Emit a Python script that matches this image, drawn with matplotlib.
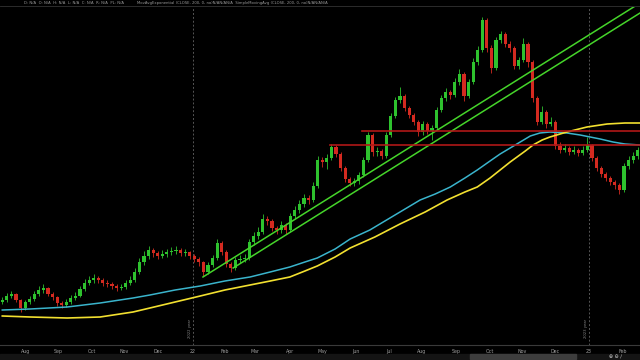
import numpy as np
import pandas as pd
import matplotlib
matplotlib.use('Agg')
import matplotlib.pyplot as plt
from matplotlib.patches import Rectangle
from matplotlib.lines import Line2D

# barras de 3 pregoes, de 09/07/2021 ate fev/2023
days = pd.bdate_range('2021-07-09', periods=420)

opens = [14.3, 14.5, 14.9, 15.1, 14.5, 13.7, 14.3, 14.6, 15.1, 15.5,
         15.7, 15.1, 14.8, 14.2, 14.0, 14.3, 14.7, 14.9, 15.6, 16.2,
         16.5, 16.7, 16.5, 16.2, 16.1, 15.9, 15.7, 15.8, 16.2, 16.5,
         17.3, 18.3, 18.9, 19.5, 19.2, 18.9, 19.1, 19.3, 19.4, 19.5,
         19.2, 19.3, 18.9, 18.6, 18.3, 17.3, 18.0, 18.7, 20.2, 19.3,
         18.1, 17.7, 18.5, 18.6, 18.7, 20.3, 20.9, 21.3, 22.6, 22.4,
         21.7, 21.5, 22.0, 21.5, 22.9, 23.5, 24.1, 24.7, 24.5, 25.9,
         28.5, 28.3, 28.7, 29.8, 29.1, 27.7, 26.6, 26.2, 26.4, 27.0,
         28.5, 31.0, 29.3, 29.4, 28.9, 31.0, 32.9, 34.5, 34.9, 33.7,
         33.0, 32.3, 31.3, 32.1, 31.4, 31.7, 33.5, 34.7, 35.3, 35.0,
         36.3, 37.1, 34.9, 36.3, 38.3, 39.5, 42.5, 39.7, 37.7, 40.5,
         41.1, 40.1, 39.7, 37.9, 38.5, 40.1, 38.3, 34.7, 32.3, 33.3,
         32.1, 32.3, 29.9, 29.5, 29.7, 29.3, 29.5, 29.2, 29.5, 30.0,
         28.7, 27.7, 27.1, 26.7, 26.3, 26.0, 25.5, 27.9, 28.5, 28.9]
closes = [14.5, 14.9, 15.1, 14.5, 13.7, 14.3, 14.6, 15.1, 15.5, 15.7,
          15.1, 14.8, 14.2, 14.0, 14.3, 14.7, 14.9, 15.6, 16.2, 16.5,
          16.7, 16.5, 16.2, 16.1, 15.9, 15.7, 15.8, 16.2, 16.5, 17.3,
          18.3, 18.9, 19.5, 19.2, 18.9, 19.1, 19.3, 19.4, 19.5, 19.2,
          19.3, 18.9, 18.6, 18.3, 17.3, 18.0, 18.7, 20.2, 19.3, 18.1,
          17.7, 18.5, 18.6, 18.7, 20.3, 20.9, 21.3, 22.6, 22.4, 21.7,
          21.5, 22.0, 21.5, 22.9, 23.5, 24.1, 24.7, 24.5, 25.9, 28.5,
          28.3, 28.7, 29.8, 29.1, 27.7, 26.6, 26.2, 26.4, 27.0, 28.5,
          31.0, 29.3, 29.4, 28.9, 31.0, 32.9, 34.5, 34.9, 33.7, 33.0,
          32.3, 31.3, 32.1, 31.4, 31.7, 33.5, 34.7, 35.3, 35.0, 36.3,
          37.1, 34.9, 36.3, 38.3, 39.5, 42.5, 39.7, 37.7, 40.5, 41.1,
          40.1, 39.7, 37.9, 38.5, 40.1, 38.3, 34.7, 32.3, 33.3, 32.1,
          32.3, 29.9, 29.5, 29.7, 29.3, 29.5, 29.2, 29.5, 30.0, 28.7,
          27.7, 27.1, 26.7, 26.3, 26.0, 25.5, 27.9, 28.5, 28.9, 29.5]
highs = [14.8, 15.2, 15.4, 15.2, 14.6, 14.5, 14.9, 15.4, 15.9, 16.1,
         15.8, 15.3, 14.9, 14.4, 14.6, 15.0, 15.3, 15.9, 16.6, 16.9,
         17.1, 16.9, 16.7, 16.5, 16.3, 16.1, 16.1, 16.5, 16.9, 17.7,
         18.7, 19.4, 19.9, 19.7, 19.4, 19.5, 19.6, 19.8, 19.9, 19.7,
         19.6, 19.4, 19.1, 18.8, 18.4, 18.3, 19.0, 20.6, 20.4, 19.5,
         18.3, 18.8, 19.0, 19.1, 20.6, 21.3, 21.8, 23.1, 22.9, 22.6,
         21.9, 22.4, 22.2, 23.2, 23.9, 24.5, 25.1, 25.0, 26.3, 28.9,
         28.8, 29.1, 30.1, 30.0, 29.3, 27.9, 26.8, 26.7, 27.3, 28.8,
         31.3, 31.2, 29.8, 29.6, 31.3, 33.2, 34.8, 35.8, 35.1, 33.9,
         33.2, 32.5, 32.4, 32.3, 32.0, 33.8, 35.0, 35.7, 35.5, 36.7,
         37.6, 37.3, 36.6, 38.7, 39.9, 42.8, 42.7, 40.0, 40.8, 41.4,
         41.3, 40.4, 39.9, 38.8, 40.7, 40.3, 38.5, 34.9, 33.9, 33.5,
         32.8, 32.5, 30.3, 30.1, 29.9, 29.9, 29.7, 29.9, 30.8, 30.1,
         28.9, 27.9, 27.3, 26.9, 26.5, 26.2, 28.2, 28.9, 29.3, 29.8]
lows = [14.1, 14.3, 14.7, 14.3, 13.3, 13.5, 14.1, 14.4, 14.9, 15.2,
        14.9, 14.5, 13.9, 13.7, 13.8, 14.1, 14.5, 14.8, 15.4, 16.0,
        16.2, 16.2, 15.9, 15.8, 15.6, 15.4, 15.5, 15.6, 16.0, 16.3,
        17.1, 18.0, 18.6, 18.8, 18.6, 18.7, 18.8, 19.0, 19.1, 18.9,
        18.9, 18.6, 18.3, 17.9, 16.9, 17.1, 17.8, 18.5, 19.0, 17.8,
        17.3, 17.5, 18.2, 18.3, 18.5, 20.0, 20.6, 21.1, 22.0, 21.4,
        21.1, 21.2, 21.1, 21.3, 22.6, 23.2, 23.8, 24.1, 24.3, 25.7,
        27.8, 27.6, 28.5, 28.8, 27.4, 26.3, 25.9, 25.9, 26.1, 26.8,
        28.3, 28.9, 28.9, 28.6, 28.7, 30.8, 32.7, 34.2, 33.4, 32.7,
        32.0, 30.9, 31.0, 31.1, 30.5, 31.5, 33.3, 34.4, 34.6, 34.8,
        36.0, 34.4, 34.7, 36.1, 38.0, 39.3, 39.3, 37.2, 37.5, 40.2,
        39.8, 39.3, 37.6, 37.6, 38.3, 37.8, 34.3, 32.0, 32.1, 31.7,
        31.9, 29.6, 29.2, 29.3, 29.0, 29.1, 28.9, 29.0, 29.3, 28.4,
        27.4, 26.8, 26.4, 26.0, 25.6, 25.1, 25.3, 27.6, 28.2, 28.6]

# medias de 200 (indice da barra, preco)
ema_x = [0, 6.1, 14.2, 21.4, 28.6, 32.3, 37.8, 43.3, 48.7, 54.2, 58.6, 62.9,
         66.2, 68.9, 72.8, 76.1, 80.4, 83.7, 87.0, 91.4, 94.7, 98.0, 101.2,
         103.9, 106.7, 108.9, 111.1, 113.3, 115.5, 117.6, 119.8, 123.5,
         126.4, 128.6, 130.8, 133.6, 136.2, 139.5]
ema_y = [13.5, 13.6, 13.8, 14.2, 14.7, 15.0, 15.5, 15.9, 16.4, 16.8, 17.3, 17.8,
         18.3, 18.7, 19.6, 20.6, 21.5, 22.4, 23.3, 24.5, 25.1, 25.8, 26.7,
         27.5, 28.4, 29.1, 29.7, 30.3, 30.9, 31.2, 31.3, 31.2,
         31.0, 30.8, 30.6, 30.3, 30.1, 30.0]
sma_x = [0, 6.1, 14.2, 21.4, 28.6, 32.3, 37.8, 43.3, 48.7, 54.2, 58.6, 62.9,
         66.2, 68.9, 72.8, 76.1, 81.5, 87.0, 92.5, 97.3, 101.2, 103.9, 106.7,
         108.9, 111.1, 112.6, 114.4, 116.1, 118.1, 119.8, 123.5, 127.9,
         132.3, 136.2, 139.5]
sma_y = [12.9, 12.8, 12.7, 12.8, 13.3, 13.7, 14.3, 14.9, 15.5, 16.0, 16.4, 16.8,
         17.4, 17.9, 18.8, 19.7, 20.8, 22.1, 23.3, 24.5, 25.3, 25.8, 26.7,
         27.5, 28.3, 28.8, 29.4, 30.0, 30.5, 30.8, 31.3, 31.8,
         32.1, 32.2, 32.2]

# canal de tendencia e niveis horizontais
chan1_x = [43.9, 139.5]
chan1_y = [16.8, 44.2]
chan2_x = [50.5, 139.5]
chan2_y = [17.7, 43.2]
levels = [31.4, 30.0]
level_start = [78.7, 71.7]

n = len(closes)
x = np.arange(n)
opens = np.array(opens)
closes = np.array(closes)
up = closes >= opens
colors = np.where(up, '#2ec22e', '#d42a20')

fig = plt.figure(figsize=(6.4, 3.6), dpi=100)
fig.patch.set_facecolor('black')
ax = fig.add_axes([0, 15/360, 1, 338/360])
ax.set_facecolor('black')

# velas
ax.vlines(x, lows, highs, colors=colors, lw=0.6, zorder=3)
body = np.maximum(np.abs(closes - opens), 0.08)
ax.bar(x, body, bottom=np.minimum(opens, closes), width=0.7,
       color=colors, linewidth=0, zorder=4)

ax.plot(ema_x, ema_y, color='#3ab4cc', lw=1.1, zorder=5)
ax.plot(sma_x, sma_y, color='#f2e030', lw=1.2, zorder=5)
ax.plot(chan1_x, chan1_y, color='#45d42a', lw=1.1, zorder=6)
ax.plot(chan2_x, chan2_y, color='#45d42a', lw=1.1, zorder=6)
for lv, st in zip(levels, level_start):
    ax.plot([st, n], [lv, lv], color='#b01818', lw=1.2, zorder=6)

# meses no eixo x
pos, labs, years = [], [], []
for j in range(1, len(days)):
    if days[j].month != days[j - 1].month:
        p = (j - 1) / 3
        pos.append(p)
        if days[j].month == 1:
            labs.append(days[j].strftime('%y'))
            years.append((p, days[j].year))
        else:
            labs.append(days[j].strftime('%b'))

for p, yr in years:
    ax.axvline(p, color='#555555', lw=0.7, ls=(0, (2, 2)), zorder=1)
    ax.text(p - 0.2, 0.05, '%d year' % yr, rotation=90, ha='right', va='center',
            fontsize=2.7, color='#888888', transform=ax.get_xaxis_transform())

ax.set_xticks(pos)
ax.set_xticklabels(labs)
ax.tick_params(axis='x', length=0, pad=3, labelsize=3.4, colors='#a0a0a0')
ax.set_yticks([])
ax.set_xlim(-0.5, n - 0.5)
ax.set_ylim(10.0, 43.8)
for s in ['top', 'left', 'right']:
    ax.spines[s].set_visible(False)
ax.spines['bottom'].set_color('#3a3a3a')
ax.spines['bottom'].set_linewidth(0.8)

# cabecalho
fig.lines.append(Line2D([0, 1], [1 - 6/360, 1 - 6/360], color='#333333', lw=0.6,
                        transform=fig.transFigure))
fig.text(24/640, 1 - 3/360, 'D: N/A  O: N/A  H: N/A  L: N/A  C: N/A  R: N/A  PL: N/A',
         fontsize=2.7, color='#9a9a9a', va='center')
fig.text(137/640, 1 - 3/360,
         'MovAvgExponential (CLOSE, 200, 0, no)N/AN/AN/A  SimpleMovingAvg (CLOSE, 200, 0, no)N/AN/AN/A',
         fontsize=2.7, color='#9a9a9a', va='center')

# barra de rolagem
fig.patches.append(Rectangle((0, 0), 1, 6/360, color='#141414', transform=fig.transFigure))
fig.patches.append(Rectangle((470/640, 1/360), 106/640, 5/360, color='#3d3d3d',
                             transform=fig.transFigure))
fig.text(0.962, 3/360, '⊕ ⊖ ∕', fontsize=3.5, color='#cccccc', va='center', ha='center')

fig.savefig('out.png', dpi=100, facecolor='black')
